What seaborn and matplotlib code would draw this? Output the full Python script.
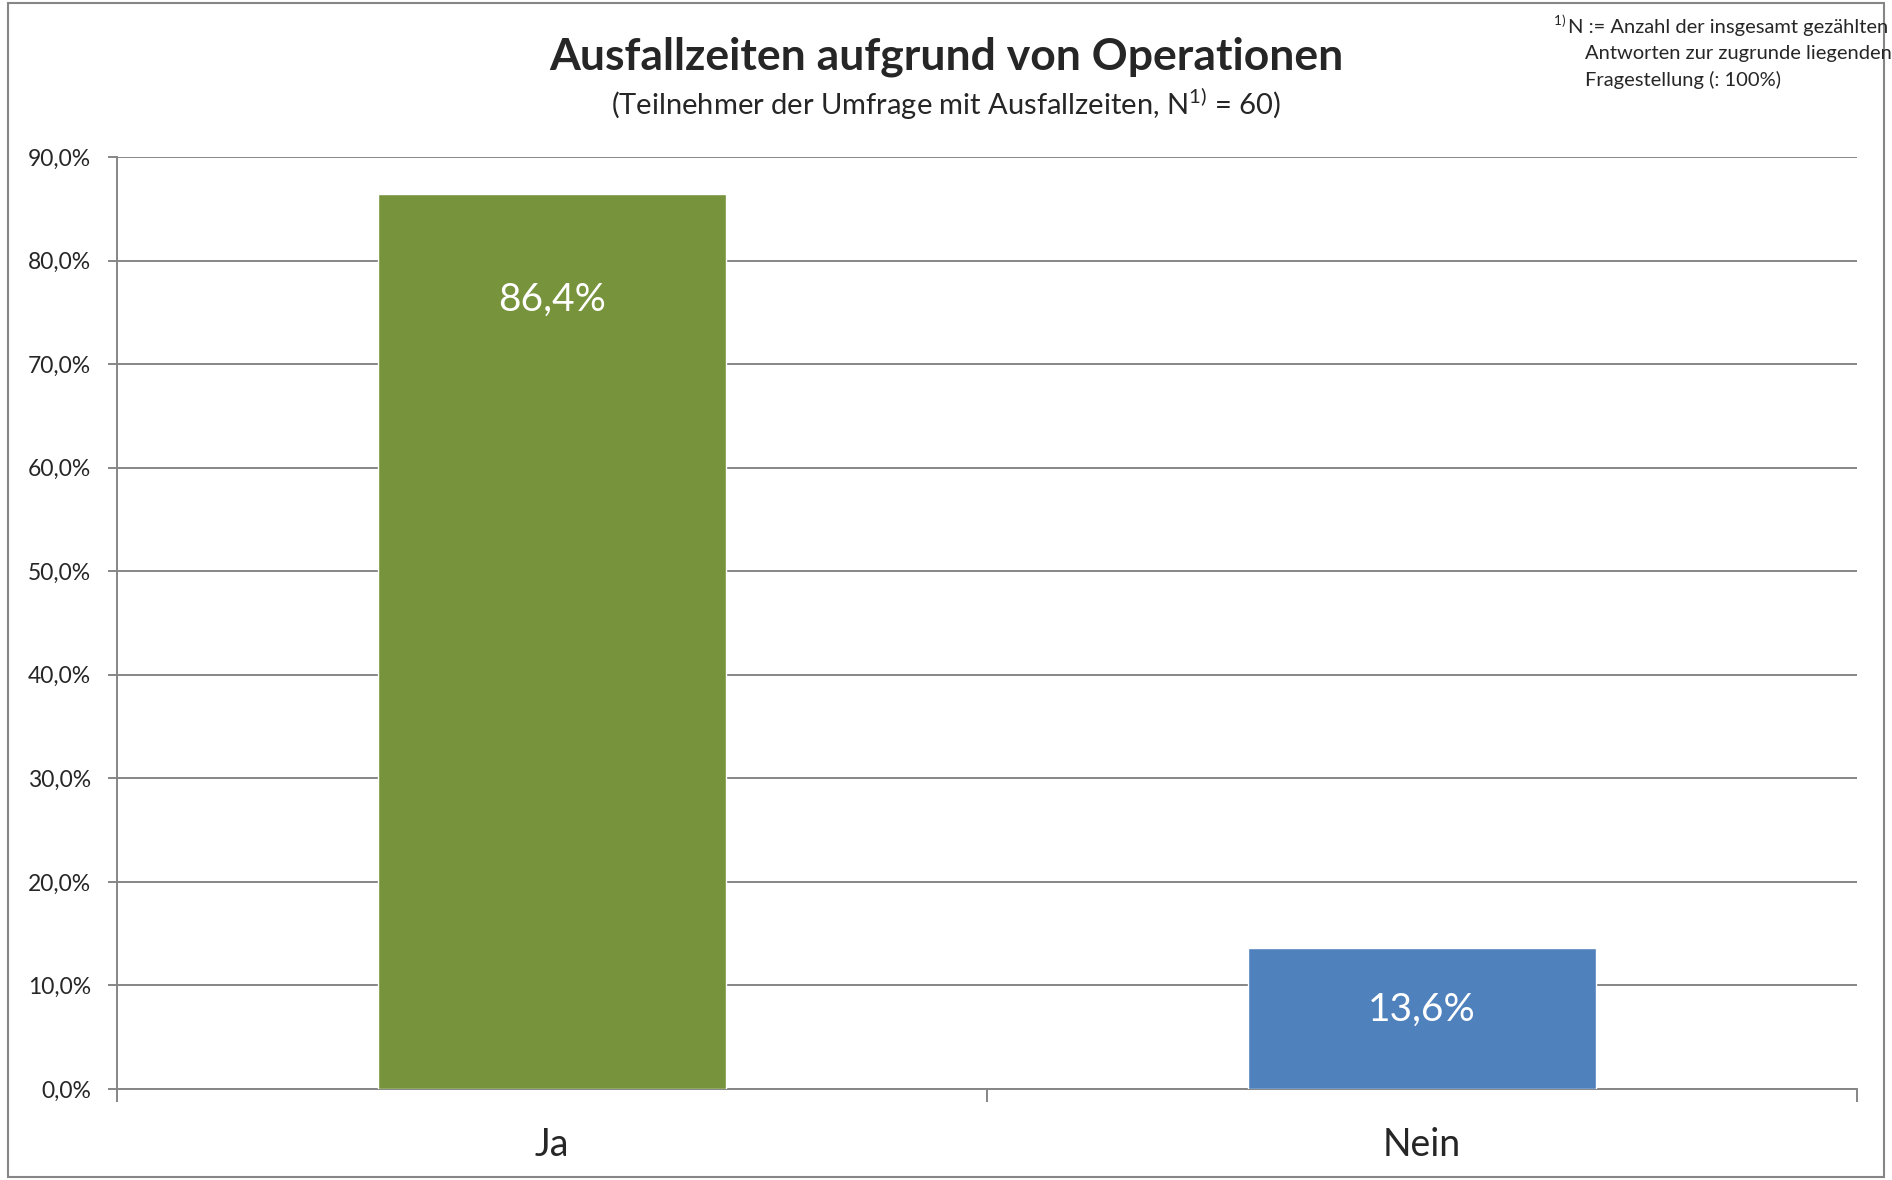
import numpy as np
import pandas as pd
import matplotlib
matplotlib.use('Agg')
import matplotlib.pyplot as plt
import seaborn as sns
from matplotlib.patches import Rectangle
from matplotlib.ticker import FuncFormatter, FixedLocator

# data
categories = ['Ja', 'Nein']
shares = [86.4, 13.6]
bar_colors = ['#77933C', '#4F81BD']
value_labels = ['86,4%', '13,6%']
y_ticks = [0, 10, 20, 30, 40, 50, 60, 70, 80, 90]

title = 'Ausfallzeiten aufgrund von Operationen'
subtitle = r'(Teilnehmer der Umfrage mit Ausfallzeiten, N$^{\mathrm{1)}}$ = 60)'
footnote = ['N := Anzahl der insgesamt gezählten',
            'Antworten zur zugrunde liegenden',
            'Fragestellung (: 100%)']

sns.set_style('white')
plt.rcParams['font.family'] = ['Lato', 'DejaVu Sans']
plt.rcParams['mathtext.fontset'] = 'custom'
plt.rcParams['mathtext.rm'] = 'Lato'

grid_col = '#868686'

df = pd.DataFrame({'cat': categories, 'share': shares})

fig = plt.figure(figsize=(18.92, 11.80), dpi=100)
ax = fig.add_axes([117 / 1892, 1 - 1089 / 1180, 1740 / 1892, 932 / 1180])

sns.barplot(data=df, x='cat', y='share', hue='cat', palette=bar_colors,
            width=0.4, saturation=1, legend=False, ax=ax, zorder=3)

ax.set_ylim(0, 90)
ax.set_xlim(-0.5, 1.5)
ax.yaxis.set_major_locator(FixedLocator(y_ticks))
ax.yaxis.set_major_formatter(FuncFormatter(lambda v, p: f'{v:.1f}%'.replace('.', ',')))
ax.grid(axis='y', color=grid_col, lw=1.4, zorder=0)
ax.set_axisbelow(True)

for s in ['top', 'right']:
    ax.spines[s].set_visible(False)
for s in ['left', 'bottom']:
    ax.spines[s].set_color(grid_col)
    ax.spines[s].set_linewidth(1.4)

ax.tick_params(axis='y', length=6.5, width=1.4, color=grid_col, labelsize=16.5, pad=12, left=True)
ax.set_xticks([-0.5, 0.5, 1.5], minor=True)
ax.tick_params(axis='x', which='minor', length=9.5, width=1.4, color=grid_col, bottom=True)
ax.tick_params(axis='x', which='major', length=0, labelsize=27, pad=27)
ax.set_xlabel('')
ax.set_ylabel('')

# value labels inside the bars
offsets = [-105, -62]
for i, (v, lab) in enumerate(zip(shares, value_labels)):
    ax.annotate(lab, xy=(i, v), xytext=(0, offsets[i]), textcoords='offset pixels',
                ha='center', va='center', color='white', fontsize=28, zorder=4)

fig.text(946 / 1892, 1 - 57 / 1180, title, ha='center', va='center',
         fontsize=32, fontweight='bold')
fig.text(946 / 1892, 1 - 104 / 1180, subtitle, ha='center', va='center', fontsize=21)

fig.text(1553 / 1892, 1 - 26 / 1180, r'$^{\mathrm{1)}}$', ha='left', va='center', fontsize=14)
fig.text(1568 / 1892, 1 - 27 / 1180, footnote[0], ha='left', va='center', fontsize=14.5)
fig.text(1585 / 1892, 1 - 54 / 1180, footnote[1], ha='left', va='center', fontsize=14.5)
fig.text(1585 / 1892, 1 - 80 / 1180, footnote[2], ha='left', va='center', fontsize=14.5)

fig.patches.append(Rectangle((8 / 1892, 3 / 1180), 1876 / 1892, 1174 / 1180,
                             transform=fig.transFigure, fill=False,
                             edgecolor=grid_col, lw=1.5))

fig.savefig('out.png', dpi=100, facecolor='white')
